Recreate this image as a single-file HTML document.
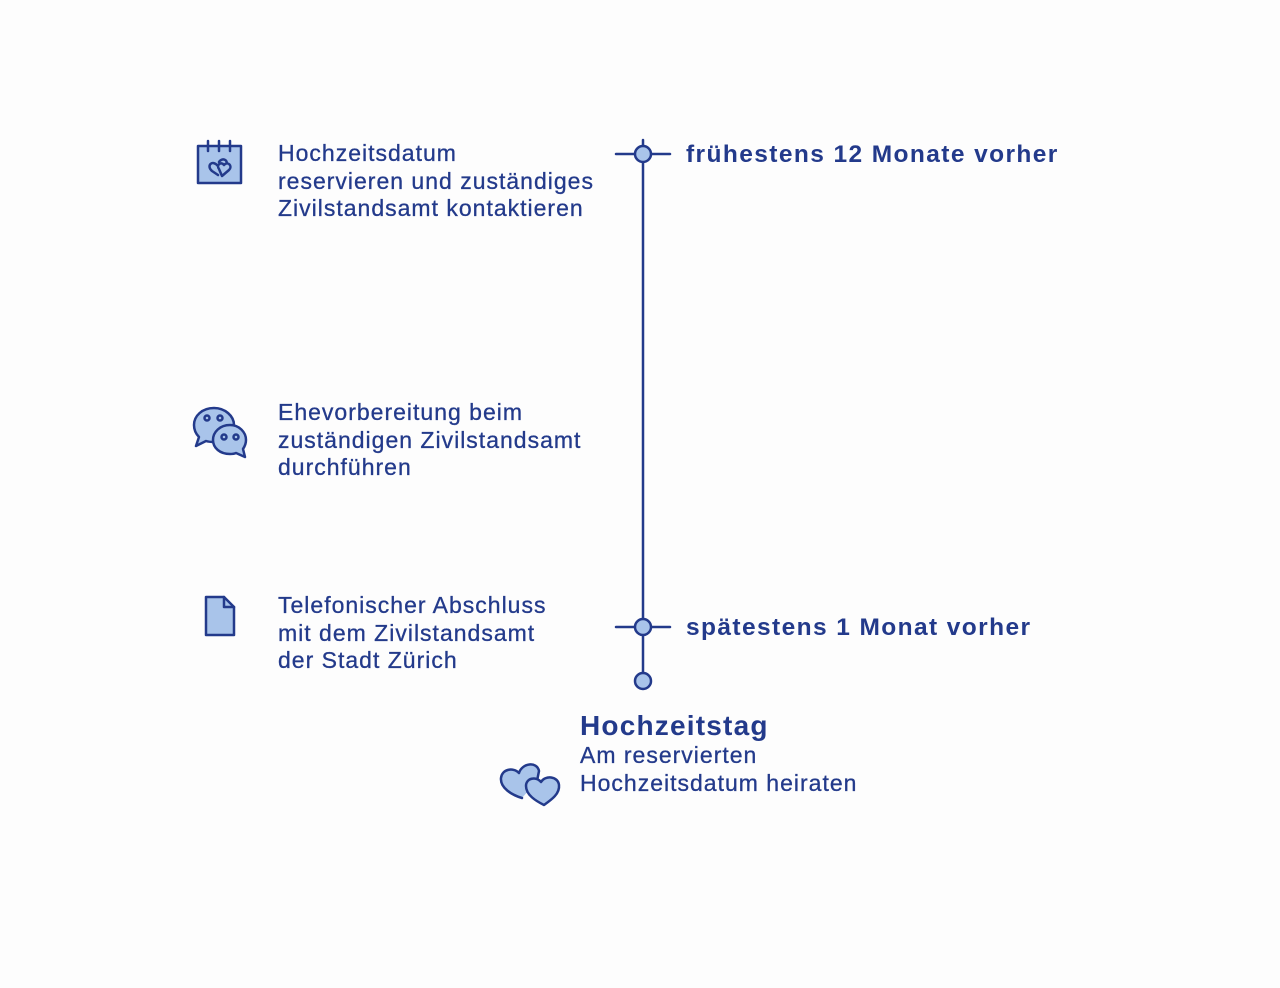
<!DOCTYPE html>
<html><head><meta charset="utf-8"><style>
body{margin:0;width:1280px;height:988px;background:#fdfdfd;font-family:"Liberation Sans",Arial,sans-serif;color:#233a8b;position:relative;overflow:hidden}
.t{position:absolute;font-size:23px;line-height:27.5px;letter-spacing:1px;white-space:nowrap;-webkit-text-stroke:0.3px #233a8b}
.b{position:absolute;font-size:24.5px;font-weight:bold;letter-spacing:1.4px;white-space:nowrap}
svg{position:absolute;left:0;top:0}
</style></head><body>
<svg width="1280" height="988" fill="none" stroke="#233a8b" stroke-width="2.5" stroke-linejoin="round" stroke-linecap="round">
<line x1="643" y1="140" x2="643" y2="673"/>
<line x1="616" y1="154" x2="670" y2="154"/>
<line x1="616" y1="627" x2="670" y2="627"/>
<circle cx="643" cy="154" r="8" fill="#a9c4ea"/>
<circle cx="643" cy="627" r="8" fill="#a9c4ea"/>
<circle cx="643" cy="681" r="8" fill="#a9c4ea"/>
<rect x="198" y="146" width="43" height="37" fill="#a9c4ea"/>
<line x1="208" y1="141" x2="208" y2="151"/><line x1="219" y1="141" x2="219" y2="151"/><line x1="230" y1="141" x2="230" y2="151"/>
<path d="M218 166 c-6 -7 -12 0 -6 5 l6 4 M219 162 c3 -5 10 -2 7 3" />
<path d="M222 176 l7 -6 c4 -4 -1 -9 -5 -5 c-3 -4 -8 0 -5 4 z" fill="#a9c4ea"/>
<path d="M214 408 c-12 0 -20 8 -20 17 c0 5 2 9 5 12 l-3 9 l10 -5 c3 1 5 1 8 1 c11 0 20 -8 20 -17 c0 -9 -9 -17 -20 -17z" fill="#a9c4ea"/>
<circle cx="207" cy="418" r="2.5"/><circle cx="220" cy="418" r="2.5"/>
<path d="M230 425 c-10 0 -17 7 -17 15 c0 8 7 14 17 14 c2 0 4 0 6 -1 l9 4 l-2 -8 c2 -3 3 -6 3 -9 c0 -8 -7 -15 -16 -15z" fill="#a9c4ea"/>
<circle cx="224" cy="437" r="2.5"/><circle cx="236" cy="437" r="2.5"/>
<path d="M206 597 h18 l10 10 v28 h-28 z" fill="#a9c4ea"/>
<path d="M224 597 v10 h10"/>
<path d="M522 798 c-10 -3 -22 -10 -21 -20 c1 -9 12 -11 18 -5 c3 -10 18 -12 20 -2 l-2 10" fill="#a9c4ea"/>
<path d="M544 805 c-8 -4 -18 -10 -18 -19 c0 -8 10 -10 15 -4 c4 -7 17 -6 18 3 c1 9 -8 15 -15 20z" fill="#a9c4ea"/>
</svg>
<div class="t" style="left:278px;top:140px">Hochzeitsdatum<br>reservieren und zuständiges<br>Zivilstandsamt kontaktieren</div>
<div class="t" style="left:278px;top:399px">Ehevorbereitung beim<br>zuständigen Zivilstandsamt<br>durchführen</div>
<div class="t" style="left:278px;top:592px">Telefonischer Abschluss<br>mit dem Zivilstandsamt<br>der Stadt Zürich</div>
<div class="b" style="left:686px;top:141px">frühestens 12 Monate vorher</div>
<div class="b" style="left:686px;top:614px">spätestens 1 Monat vorher</div>
<div class="b" style="left:580px;top:710px;font-size:28px;letter-spacing:1.2px">Hochzeitstag</div>
<div class="t" style="left:580px;top:742px">Am reservierten<br>Hochzeitsdatum heiraten</div>
</body></html>
